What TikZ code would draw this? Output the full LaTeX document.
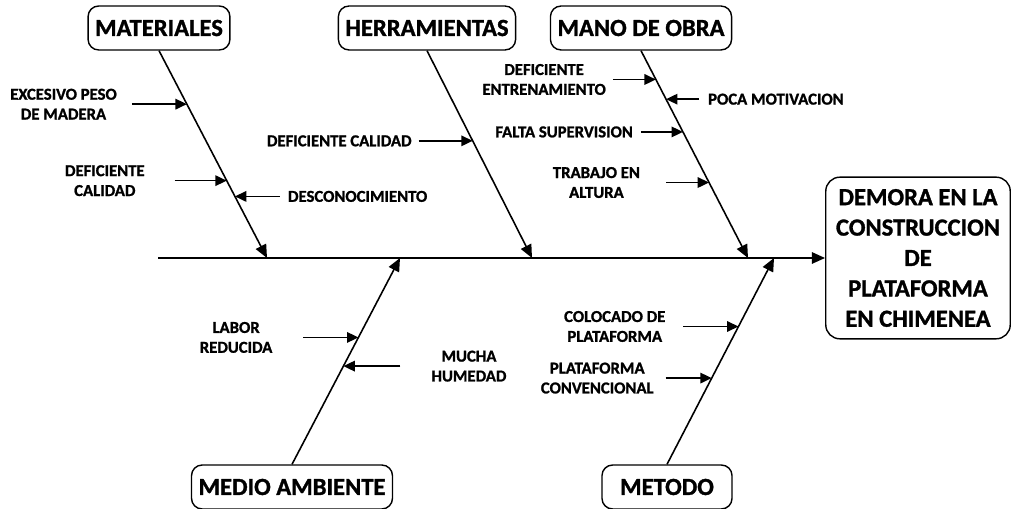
\documentclass[tikz,border=0pt]{standalone}
\usepackage{fontspec}
\setmainfont{Carlito}[BoldFeatures={FakeBold=1.2}]
\usetikzlibrary{arrows.meta,positioning}
\tikzset{
  cat/.style={draw,line width=0.8pt,rounded corners=6pt,font=\bfseries\fontsize{14}{16}\selectfont,inner xsep=4pt,minimum height=25pt},
  efecto/.style={draw,line width=0.8pt,rounded corners=8pt,align=center,font=\bfseries\fontsize{14}{17.3}\selectfont,minimum width=105pt,minimum height=92pt,inner xsep=2pt},
  causa/.style={font=\bfseries\fontsize{9.5}{11.3}\selectfont,align=center,inner sep=1pt},
  bone/.style={line width=0.9pt,-{Triangle[length=7.5pt,width=6.5pt]}},
  sub/.style={line width=0.9pt,-{Triangle[length=6.5pt,width=6pt]}}
}
\begin{document}
\begin{tikzpicture}[x=0.02cm,y=-0.02cm]
\useasboundingbox (0,0) rectangle (1014,509);
\node[cat] (mat) at (159,28) {MATERIALES};
\node[cat] (her) at (427,28) {HERRAMIENTAS};
\node[cat] (mob) at (641,28) {MANO DE OBRA};
\node[cat] (med) at (292,487) {MEDIO AMBIENTE};
\node[cat,minimum width=74pt] (met) at (667,487) {METODO};
\node[efecto] (efe) at (918,258) {DEMORA EN LA\\CONSTRUCCION\\DE\\PLATAFORMA\\EN CHIMENEA};
\coordinate (cola) at (158,258);
\coordinate (s1) at (267,258);
\coordinate (s2) at (532,258);
\coordinate (s3) at (748,258);
\coordinate (s4) at (400,258);
\coordinate (s5) at (774,258);
\draw[bone] (cola) -- (efe.west);
\draw[bone] (mat.south) -- coordinate[pos=0.258] (m1) coordinate[pos=0.627] (m2) coordinate[pos=0.703] (m3) (s1);
\draw[bone] (her.south) -- coordinate[pos=0.435] (h1) (s2);
\draw[bone] (mob.south) -- coordinate[pos=0.139] (o1) coordinate[pos=0.234] (o2) coordinate[pos=0.392] (o3) coordinate[pos=0.636] (o4) (s3);
\draw[bone] (med.north) -- coordinate[pos=0.615] (a1) coordinate[pos=0.476] (a2) (s4);
\draw[bone] (met.north) -- coordinate[pos=0.668] (e1) coordinate[pos=0.418] (e2) (s5);
\coordinate (tm1) at ([xshift=-1.1cm]m1);
\coordinate (tm2) at ([xshift=-1.04cm]m2);
\coordinate (tm3) at ([xshift=0.9cm]m3);
\coordinate (th1) at ([xshift=-1.08cm]h1);
\coordinate (to1) at ([xshift=-0.86cm]o1);
\coordinate (to2) at ([xshift=0.66cm]o2);
\coordinate (to3) at ([xshift=-0.84cm]o3);
\coordinate (to4) at ([xshift=-0.86cm]o4);
\coordinate (ta1) at ([xshift=-1.1cm]a1);
\coordinate (ta2) at ([xshift=1.14cm]a2);
\coordinate (te1) at ([xshift=-1.1cm]e1);
\coordinate (te2) at ([xshift=-0.92cm]e2);
\node[causa,left=0.26cm of tm1] (cm1) {EXCESIVO PESO\\DE MADERA};
\node[causa,left=0.56cm of tm2] (cm2) {DEFICIENTE\\CALIDAD};
\node[causa,right=0.12cm of tm3] (cm3) {DESCONOCIMIENTO};
\node[causa,left=0.1cm of th1] (ch1) {DEFICIENTE CALIDAD};
\node[causa,left=0.1cm of to1] (co1) {DEFICIENTE\\ENTRENAMIENTO};
\node[causa,right=0.14cm of to2] (co2) {POCA MOTIVACION};
\node[causa,left=0.12cm of to3] (co3) {FALTA SUPERVISION};
\node[causa,left=0.48cm of to4] (co4) {TRABAJO EN\\ALTURA};
\node[causa,left=0.58cm of ta1] (ca1) {LABOR\\REDUCIDA};
\node[causa,right=0.58cm of ta2] (ca2) {MUCHA\\HUMEDAD};
\node[causa,left=0.32cm of te1] (ce1) {COLOCADO DE\\PLATAFORMA};
\node[causa,left=0.2cm of te2] (ce2) {PLATAFORMA\\CONVENCIONAL};
\draw[sub] (tm1) -- (m1);
\draw[sub] (tm2) -- (m2);
\draw[sub] (tm3) -- (m3);
\draw[sub] (th1) -- (h1);
\draw[sub] (to1) -- (o1);
\draw[sub] (to2) -- (o2);
\draw[sub] (to3) -- (o3);
\draw[sub] (to4) -- (o4);
\draw[sub] (ta1) -- (a1);
\draw[sub] (ta2) -- (a2);
\draw[sub] (te1) -- (e1);
\draw[sub] (te2) -- (e2);
\end{tikzpicture}
\end{document}
